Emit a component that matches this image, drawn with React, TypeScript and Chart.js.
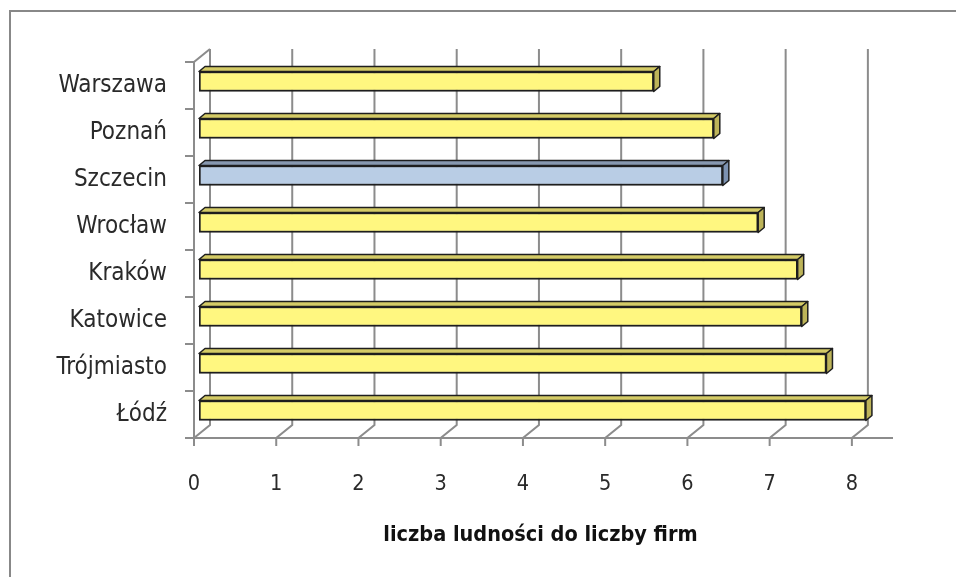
import React, { useEffect, useRef } from 'react';
import { Chart, registerables } from 'chart.js';

Chart.register(...registerables);

const categories = ['Warszawa', 'Poznań', 'Szczecin', 'Wrocław', 'Kraków', 'Katowice', 'Trójmiasto', 'Łódź'];
const values = [5.53, 6.26, 6.37, 6.8, 7.28, 7.33, 7.63, 8.11];
const highlighted = ['Szczecin'];
const xTickValues = [0, 1, 2, 3, 4, 5, 6, 7, 8];
const axisTitle = 'liczba ludności do liczby firm';

const FONT = "'DejaVu Sans Condensed', 'DejaVu Sans', sans-serif";
const W = 956;
const H = 577;

// 3D geometry offsets relative to the bar plane (px)
const FRONT = { dx: -5, dy: 4 };
const BACK = { dx: 11, dy: -9 };
const DEPTH = { dx: 6, dy: -5 };

const GRID = '#8c8c8c';

const colors = {
  yellow: { front: '#FFF780', top: '#D4CB66', side: '#BDB459' },
  blue: { front: '#B9CDE5', top: '#8798B0', side: '#7C92B1' },
};

const threeD = {
  id: 'threeD',
  afterLayout(chart: any) {
    const xs = chart.scales.x;
    if (xs && !xs.__shifted) {
      const orig = xs.drawTitle.bind(xs);
      xs.drawTitle = function () {
        const ctx = chart.ctx;
        ctx.save();
        ctx.translate(-8, 0);
        orig();
        ctx.restore();
      };
      xs.__shifted = true;
    }
  },
  beforeDraw(chart: any) {
    const ctx = chart.ctx;
    ctx.save();
    ctx.fillStyle = '#ffffff';
    ctx.fillRect(0, 0, chart.width, chart.height);
    ctx.strokeStyle = '#888888';
    ctx.lineWidth = 2;
    ctx.beginPath();
    ctx.moveTo(10, chart.height + 5);
    ctx.lineTo(10, 11);
    ctx.lineTo(chart.width + 5, 11);
    ctx.stroke();
    ctx.restore();
  },
  beforeDatasetsDraw(chart: any) {
    const ctx = chart.ctx;
    const xs = chart.scales.x;
    const ys = chart.scales.y;
    const { top, bottom } = chart.chartArea;
    const band = ys.getPixelForValue(1) - ys.getPixelForValue(0);
    ctx.save();
    ctx.strokeStyle = GRID;
    ctx.lineWidth = 2;
    ctx.lineCap = 'butt';
    // back wall gridlines + floor diagonals + tick marks
    xTickValues.forEach((v) => {
      const p = xs.getPixelForValue(v);
      ctx.beginPath();
      ctx.moveTo(p + BACK.dx, top + BACK.dy);
      ctx.lineTo(p + BACK.dx, bottom + BACK.dy);
      ctx.lineTo(p + FRONT.dx, bottom + FRONT.dy);
      ctx.lineTo(p + FRONT.dx, bottom + FRONT.dy + 8);
      ctx.stroke();
    });
    // floor front edge
    const x0 = xs.getPixelForValue(0);
    const xEnd = xs.getPixelForValue(xs.max);
    ctx.beginPath();
    ctx.moveTo(x0 + FRONT.dx - 9, bottom + FRONT.dy);
    ctx.lineTo(xEnd + FRONT.dx, bottom + FRONT.dy);
    ctx.stroke();
    // left wall
    ctx.beginPath();
    ctx.moveTo(x0 + BACK.dx, top + BACK.dy);
    ctx.lineTo(x0 + FRONT.dx, top + FRONT.dy);
    ctx.lineTo(x0 + FRONT.dx, bottom + FRONT.dy);
    ctx.stroke();
    for (let i = 0; i <= categories.length; i++) {
      const y = ys.getPixelForValue(i) - band / 2 + FRONT.dy;
      ctx.beginPath();
      ctx.moveTo(x0 + FRONT.dx - 9, y);
      ctx.lineTo(x0 + FRONT.dx, y);
      ctx.stroke();
    }
    ctx.restore();
  },
  afterDatasetsDraw(chart: any) {
    const ctx = chart.ctx;
    const meta = chart.getDatasetMeta(0);
    ctx.save();
    ctx.strokeStyle = '#1e1e1e';
    ctx.lineWidth = 1.5;
    ctx.lineJoin = 'round';
    meta.data.forEach((bar: any, i: number) => {
      const { x, y, base, height } = bar.getProps(['x', 'y', 'base', 'height'], true);
      const c = highlighted.includes(categories[i]) ? colors.blue : colors.yellow;
      const t = y - height / 2;
      const b = y + height / 2;
      // top face
      ctx.beginPath();
      ctx.moveTo(base, t);
      ctx.lineTo(base + DEPTH.dx, t + DEPTH.dy);
      ctx.lineTo(x + DEPTH.dx, t + DEPTH.dy);
      ctx.lineTo(x, t);
      ctx.closePath();
      ctx.fillStyle = c.top;
      ctx.fill();
      ctx.stroke();
      // side face
      ctx.beginPath();
      ctx.moveTo(x, t);
      ctx.lineTo(x + DEPTH.dx, t + DEPTH.dy);
      ctx.lineTo(x + DEPTH.dx, b + DEPTH.dy);
      ctx.lineTo(x, b);
      ctx.closePath();
      ctx.fillStyle = c.side;
      ctx.fill();
      ctx.stroke();
    });
    ctx.restore();
  },
};

export default function App() {
  const ref = useRef<HTMLCanvasElement | null>(null);
  useEffect(() => {
    if (!ref.current) return;
    const chart = new Chart(ref.current, {
      type: 'bar',
      data: {
        labels: categories,
        datasets: [
          {
            data: values,
            backgroundColor: categories.map((c) => (highlighted.includes(c) ? colors.blue.front : colors.yellow.front)),
            borderColor: '#1e1e1e',
            borderWidth: 2,
            borderSkipped: false,
            barThickness: 20,
          },
        ],
      },
      options: {
        indexAxis: 'y',
        responsive: false,
        animation: false,
        devicePixelRatio: 1,
        layout: { padding: { top: 58, right: 58, left: 0, bottom: 0 } },
        plugins: { legend: { display: false }, tooltip: { enabled: false } },
        scales: {
          x: {
            type: 'linear',
            min: 0,
            max: 8.5,
            grid: { display: false },
            border: { display: false },
            afterFit: (s: any) => {
              s.height = 143;
            },
            ticks: {
              stepSize: 1,
              includeBounds: false,
              labelOffset: -5,
              padding: 30,
              color: '#2a2a2a',
              font: { family: FONT, size: 21.5 },
            },
            title: {
              display: true,
              text: axisTitle,
              color: '#111111',
              font: { family: FONT, size: 21.5, weight: 'bold' },
              padding: { top: 0, bottom: 29 },
            },
          },
          y: {
            type: 'category',
            grid: { display: false },
            border: { display: false },
            afterFit: (s: any) => {
              s.width = 199;
            },
            ticks: {
              padding: 24,
              labelOffset: 4,
              color: '#2a2a2a',
              font: { family: FONT, size: 24 },
            },
          },
        },
      },
      plugins: [threeD],
    });
    return () => chart.destroy();
  }, []);
  return (
    <div style={{ position: 'absolute', left: 0, top: 0, width: W, height: H }}>
      <canvas ref={ref} width={W} height={H} style={{ display: 'block', width: W, height: H }} />
    </div>
  );
}
